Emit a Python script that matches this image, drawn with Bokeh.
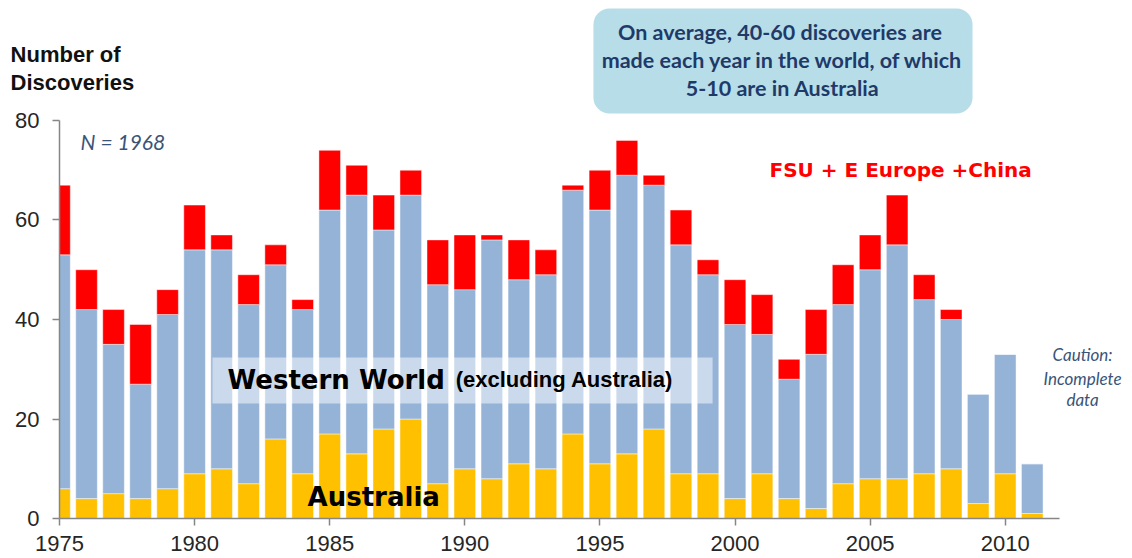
from bokeh.plotting import figure
from bokeh.models import Range1d, Label, BoxAnnotation, FixedTicker, ColumnDataSource
from bokeh.embed import file_html
from bokeh.resources import INLINE

years = list(range(1975, 2012))
australia = [6, 4, 5, 4, 6, 9, 10, 7, 16, 9, 17, 13, 18, 20, 7, 10, 8, 11, 10, 17,
             11, 13, 18, 9, 9, 4, 9, 4, 2, 7, 8, 8, 9, 10, 3, 9, 1]
western = [47, 38, 30, 23, 35, 45, 44, 36, 35, 33, 45, 52, 40, 45, 40, 36, 48, 37, 39, 49,
           51, 56, 49, 46, 40, 35, 28, 24, 31, 36, 42, 47, 35, 30, 22, 24, 10]
fsu_eeurope_china = [14, 8, 7, 12, 5, 9, 3, 6, 4, 2, 12, 6, 7, 5, 9, 11, 1, 8, 5, 1,
                     8, 7, 2, 7, 3, 9, 8, 4, 9, 8, 7, 10, 5, 2, 0, 0, 0]
y_ticks = [0, 20, 40, 60, 80]
x_ticks = [1975, 1980, 1985, 1990, 1995, 2000, 2005, 2010]

source = ColumnDataSource(dict(year=years, aus=australia, west=western, fsu=fsu_eeurope_china))

p = figure(width=1132, height=558, output_backend="svg", toolbar_location=None,
           x_range=Range1d(1972.816, 2014.71), y_range=Range1d(-8.04, 104.12),
           min_border_left=0, min_border_right=0, min_border_top=0, min_border_bottom=0)
p.outline_line_color = None
p.grid.visible = False
p.background_fill_color = "white"

p.vbar_stack(["aus", "west", "fsu"], x="year", width=0.8, source=source,
             color=["#FFC000", "#95B3D7", "#FF0000"],
             line_color="white", line_width=1, line_alpha=0.45)

# hide the part of the first bar left of the value axis
cover = BoxAnnotation(left=1974.3, right=1975.0, bottom=-0.5, top=75,
                      fill_color="white", fill_alpha=1.0, line_color=None, level="glyph")
p.add_layout(cover)

axis_color = "#868686"
for ax in (p.xaxis[0], p.yaxis[0]):
    ax.axis_line_color = axis_color
    ax.axis_line_width = 1.5
    ax.major_tick_line_color = axis_color
    ax.major_tick_line_width = 1.5
    ax.major_tick_in = 0
    ax.major_tick_out = 7
    ax.minor_tick_line_color = None
    ax.major_label_text_font = "Liberation Sans"
    ax.major_label_text_font_size = "22px"
    ax.major_label_text_color = "#262626"

p.yaxis[0].ticker = FixedTicker(ticks=y_ticks)
p.yaxis[0].bounds = (0, 80)
p.yaxis[0].fixed_location = 1975
p.yaxis[0].major_label_standoff = 13
p.xaxis[0].ticker = FixedTicker(ticks=x_ticks)
p.xaxis[0].bounds = (1975, 2012)
p.xaxis[0].fixed_location = 0
p.xaxis[0].major_label_standoff = 10

# Callout box
p.add_layout(BoxAnnotation(left=1994.76, right=2008.79, top=102.5, bottom=81.4,
                           fill_color="#B7DEE8", fill_alpha=1.0, line_color=None,
                           border_radius=16))
navy = "#1F3A68"
for txt, yv in [("On average, 40-60 discoveries  are", 97.8),
                ("made each year in the world, of which", 92.2),
                ("5-10 are in Australia", 86.5)]:
    p.add_layout(Label(x=2001.76, y=yv, text=txt, text_align="center", text_baseline="alphabetic",
                       text_font="Lato", text_font_style="bold", text_font_size="21.5px",
                       text_color=navy))

# Western world box
p.add_layout(BoxAnnotation(left=1980.66, right=1999.17, top=32.36, bottom=23.1,
                           fill_color="white", fill_alpha=0.5, line_color=None))
p.add_layout(Label(x=1981.22, y=27.9, text="Western World", text_baseline="alphabetic",
                   text_font="DejaVu Sans", text_font_style="bold", text_font_size="26px",
                   text_color="black"))
p.add_layout(Label(x=1989.66, y=27.9, text="(excluding Australia)", text_baseline="alphabetic",
                   text_font="Liberation Sans", text_font_style="bold", text_font_size="22px",
                   text_color="black"))
p.add_layout(Label(x=1984.18, y=4.4, text="Australia", text_baseline="alphabetic",
                   text_font="DejaVu Sans", text_font_style="bold", text_font_size="26px",
                   text_color="black"))
p.add_layout(Label(x=2006.13, y=70.1, text="FSU + E Europe +China", text_align="center",
                   text_baseline="alphabetic", text_font="DejaVu Sans", text_font_style="bold",
                   text_font_size="20px", text_color="#FF0000"))

slate = "#3A5478"
p.add_layout(Label(x=1975.78, y=75.8, text="N = 1968", text_baseline="alphabetic",
                   text_font="Lato", text_font_style="italic", text_font_size="21px",
                   text_color=slate))
for txt, yv in [("Caution:", 33.0), ("Incomplete", 28.1), ("data", 23.9)]:
    p.add_layout(Label(x=2012.86, y=yv, text=txt, text_align="center", text_baseline="alphabetic",
                       text_font="Lato", text_font_style="italic", text_font_size="17px",
                       text_color=slate))

# Axis title
for txt, yv in [("Number of", 93.3), ("Discoveries", 87.7)]:
    p.add_layout(Label(x=1973.19, y=yv, text=txt, text_baseline="alphabetic",
                       text_font="Liberation Sans", text_font_style="bold", text_font_size="22px",
                       text_color="#111111"))

open("out.html", "w").write(file_html(p, INLINE))
